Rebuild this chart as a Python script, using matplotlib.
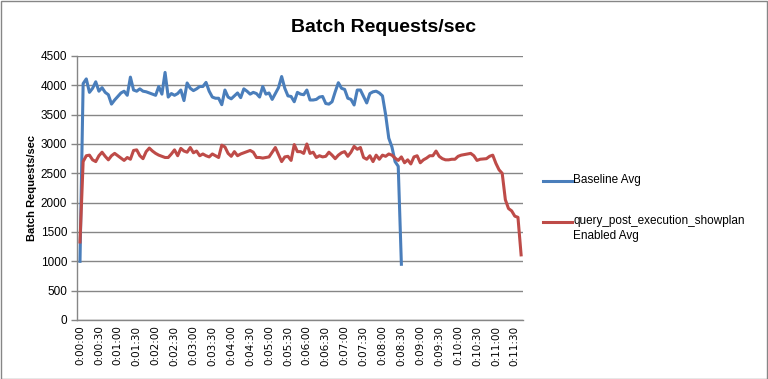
"""
Batch Requests/sec line chart: baseline vs query_post_execution_showplan enabled.
Samples are 5 s apart; x-axis labels every 30 s.
"""

import numpy as np
import matplotlib
matplotlib.use("Agg")
import matplotlib.pyplot as plt
from matplotlib.lines import Line2D
from matplotlib.patches import Rectangle

# ---------------------------------------------------------------------------
# Data
# ---------------------------------------------------------------------------
baseline_avg = [
    1000, 4030, 4110, 3880, 3950, 4060, 3900, 3960, 3880, 3840,
    3680, 3750, 3810, 3870, 3900, 3830, 4140, 3920, 3900, 3940,
    3900, 3890, 3870, 3850, 3830, 3980, 3850, 4220, 3800, 3860,
    3830, 3860, 3920, 3740, 4040, 3950, 3910, 3940, 3980, 3980,
    4050, 3900, 3800, 3780, 3780, 3670, 3920, 3800, 3770, 3820,
    3870, 3790, 3940, 3900, 3850, 3880, 3860, 3800, 3980, 3850,
    3870, 3760, 3860, 3960, 4150, 3950, 3820, 3810, 3720, 3880,
    3850, 3840, 3920, 3750, 3750, 3760, 3800, 3810, 3690, 3680,
    3720, 3890, 4045, 3950, 3930, 3780, 3760, 3665, 3920, 3920,
    3810, 3700, 3860, 3890, 3900, 3870, 3820, 3500, 3100, 2950,
    2700, 2620, 950,
]

showplan_avg = [
    1330, 2700, 2800, 2810, 2730, 2700, 2800, 2860, 2790, 2730,
    2800, 2840, 2800, 2760, 2720, 2770, 2740, 2890, 2900, 2800,
    2750, 2870, 2930, 2880, 2840, 2810, 2790, 2770, 2770, 2830,
    2900, 2800, 2925, 2880, 2860, 2940, 2850, 2880, 2800, 2830,
    2800, 2780, 2830, 2800, 2770, 2980, 2950, 2840, 2790, 2870,
    2800, 2830, 2850, 2870, 2890, 2860, 2770, 2770, 2760, 2770,
    2780, 2860, 2940, 2820, 2700, 2780, 2790, 2720, 2990, 2870,
    2870, 2840, 3000, 2840, 2860, 2770, 2800, 2780, 2790, 2860,
    2810, 2750, 2810, 2850, 2870, 2790, 2860, 2960, 2910, 2940,
    2770, 2740, 2800, 2700, 2810, 2740, 2810, 2790, 2830, 2810,
    2760, 2720, 2780, 2680, 2730, 2660, 2780, 2800, 2680, 2730,
    2760, 2800, 2800, 2880, 2790, 2750, 2730, 2730, 2740, 2740,
    2790, 2810, 2820, 2830, 2840, 2800, 2720, 2740, 2745, 2750,
    2790, 2810, 2670, 2560, 2500, 2050, 1900, 1860, 1770, 1750,
    1110,
]

series_labels = ["Baseline Avg", "query_post_execution_showplan\nEnabled Avg"]
series_colors = ["#4A7EBB", "#BE4B48"]

# one label every 6 samples (30 s)
tick_every = 6
tick_labels = [
    "0:00:00", "0:00:30", "0:01:00", "0:01:30", "0:02:00", "0:02:30",
    "0:03:00", "0:03:30", "0:04:00", "0:04:30", "0:05:00", "0:05:30",
    "0:06:00", "0:06:30", "0:07:00", "0:07:30", "0:08:00", "0:08:30",
    "0:09:00", "0:09:30", "0:10:00", "0:10:30", "0:11:00", "0:11:30",
]
y_ticks = list(range(0, 4501, 500))

# ---------------------------------------------------------------------------
# Figure
# ---------------------------------------------------------------------------
GRID = "#868686"
W, H = 768, 379
fig = plt.figure(figsize=(W / 100, H / 100), dpi=100)
fig.patch.set_facecolor("white")
fig.add_artist(Rectangle((0.5 / W, 0.5 / H), 1 - 1.5 / W, 1 - 1.5 / H,
                         transform=fig.transFigure, fill=False,
                         edgecolor=GRID, linewidth=1.0))

ax = fig.add_axes([77 / W, 1 - 320 / H, 446 / W, 264 / H])

for vals, color in zip([baseline_avg, showplan_avg], series_colors):
    ax.plot(np.arange(len(vals)), vals, color=color, linewidth=2.2,
            solid_joinstyle="round", zorder=3)

ax.set_xlim(-0.95, 140.6)
ax.set_ylim(0, 4500)
ax.set_yticks(y_ticks)
ax.set_yticklabels([str(v) for v in y_ticks], fontsize=8.5, family="Liberation Sans")
ax.set_xticks(np.arange(len(tick_labels)) * tick_every)
ax.set_xticklabels(tick_labels, rotation=90, fontsize=7.5, family="DejaVu Sans")
ax.tick_params(axis="y", length=4, width=1, color=GRID, pad=3)
ax.tick_params(axis="x", length=0, pad=4)

ax.grid(axis="y", color=GRID, linewidth=1.0)
ax.set_axisbelow(True)
for side in ("top", "right"):
    ax.spines[side].set_visible(False)
for side in ("left", "bottom"):
    ax.spines[side].set_color(GRID)
    ax.spines[side].set_linewidth(1.0)

ax.set_ylabel("Batch Requests/sec", fontsize=8, fontweight="bold",
              family="Liberation Sans", labelpad=3)

fig.text(0.5, 1 - 27 / H, "Batch Requests/sec", ha="center", va="center",
         fontsize=14, fontweight="bold", family="Liberation Sans")

# legend, Excel style: key line level with the first text line
legend_rows = [181.5, 221.5]
for label, color, yy in zip(series_labels, series_colors, legend_rows):
    fig.add_artist(Line2D([543 / W, 572 / W], [1 - yy / H, 1 - yy / H],
                          transform=fig.transFigure, color=color, linewidth=2.2))
    fig.text(573 / W, 1 - (yy - 7) / H, label, ha="left", va="top",
             fontsize=8.5, family="Liberation Sans", linespacing=1.35)

fig.savefig("out.png", dpi=100)
plt.close(fig)
